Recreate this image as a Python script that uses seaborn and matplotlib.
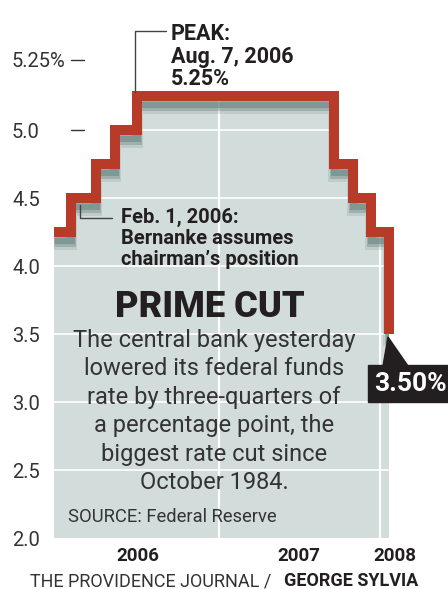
import numpy as np
import pandas as pd
import matplotlib
matplotlib.use("Agg")
import matplotlib.pyplot as plt
import matplotlib.dates as mdates
import matplotlib.transforms as mtransforms
from matplotlib.patches import Rectangle, Polygon
import seaborn as sns

# ---- data ----
change_dates = ["2005-12-23", "2006-01-31", "2006-03-28", "2006-05-10", "2006-06-29",
                "2007-09-18", "2007-10-31", "2007-12-11", "2008-01-22"]
rates = [4.25, 4.50, 4.75, 5.00, 5.25, 4.75, 4.50, 4.25, 3.50]
ytick_values = [2.0, 2.5, 3.0, 3.5, 4.0, 4.5, 5.0, 5.515]
ytick_labels = ["2.0", "2.5", "3.0", "3.5", "4.0", "4.5", "5.0", "5.25%"]
year_label_dates = ["2006-07-02", "2007-07-02", "2008-02-04"]
year_labels = ["2006", "2007", "2008"]
year_grid_dates = ["2007-01-01", "2008-01-01"]
ygrid_values = [2.5, 3.0, 3.5, 4.0, 4.5, 5.0]

sns.set_theme(style="white")
plt.rcParams['font.family'] = ['Roboto', 'DejaVu Sans']

W, H = 448, 589
fig = plt.figure(figsize=(W / 100, H / 100), dpi=100)
fig.patch.set_facecolor("white")

def fx(x):
    return x / W

def fy(y):
    return 1 - y / H

ax_left, ax_right, ax_top, ax_bottom = 54, 448, 0, 538
ax = fig.add_axes([fx(ax_left), fy(ax_bottom), (ax_right - ax_left) / W, (ax_bottom - ax_top) / H])
ax.set_facecolor("none")

x = mdates.date2num(pd.to_datetime(change_dates))
x0 = mdates.date2num(pd.Timestamp("2006-01-01"))
dpp = 365 / 161.0
ax.set_xlim(x0 - 4 * dpp, x0 + (ax_right - 58) * dpp)
ax.set_ylim(2.0, 2.0 + (ax_bottom - ax_top) / 136.0)

FILL = "#d2dcda"
RED = "#b83a28"
SHADOW = "#6f8785"
DARK = "#231f20"
TXT = "#333333"

fill = ax.fill_between(x, rates, 2.0, step="post", color=FILL, lw=0, zorder=1)
clip_path = fill.get_paths()[0]

# gridlines (white, clipped to area)
for v in ygrid_values:
    l = ax.axhline(v, color="white", lw=1.2, zorder=2)
    l.set_clip_path(clip_path, ax.transData)
for d in year_grid_dates:
    l = ax.axvline(mdates.date2num(pd.Timestamp(d)), color="white", lw=1.6, zorder=2)
    l.set_clip_path(clip_path, ax.transData)

# drop shadow (layered for a soft edge)
for off, lw, a in [(12, 12, 0.2), (10, 9, 0.4), (8, 7, 0.6)]:
    tr = mtransforms.offset_copy(ax.transData, fig=fig, x=0, y=-off, units="dots")
    sl, = ax.plot(x, rates, drawstyle="steps-post", color=SHADOW, lw=lw * 0.72,
                  alpha=a, transform=tr, zorder=3, solid_joinstyle="miter",
                  solid_capstyle="butt")
    sl.set_clip_path(clip_path, ax.transData)

# main step line
df = pd.DataFrame({"date": x, "rate": rates})
sns.lineplot(data=df, x="date", y="rate", drawstyle="steps-post", estimator=None,
             color=RED, lw=10 * 0.72, ax=ax, zorder=5)
for ln in ax.lines[-1:]:
    ln.set_solid_joinstyle("miter")
    ln.set_solid_capstyle("butt")

# axes styling
for s in ax.spines.values():
    s.set_visible(False)
ax.set_xlabel("")
ax.set_ylabel("")
ax.set_yticks(ytick_values)
ax.set_yticklabels(ytick_labels, fontsize=14.5, color=TXT)
for t in ax.get_yticklabels():
    t.set_horizontalalignment("left")
ax.tick_params(axis="y", length=0, pad=(54 - 12) * 0.72)
ax.set_xticks(mdates.date2num(pd.to_datetime(year_label_dates)))
ax.set_xticklabels(year_labels, fontsize=13.5, fontweight="bold", color=DARK)
ax.tick_params(axis="x", length=0, pad=6.5)
ax.grid(False)

# small dashes next to top labels
btr = mtransforms.blended_transform_factory(ax.transAxes, ax.transData)
for v in [5.0, 5.515]:
    ax.plot([(71 - 54) / 394, (84 - 54) / 394], [v, v], color=TXT, lw=1.0,
            transform=btr, clip_on=False, zorder=6)

# annotation leaders
fig.add_artist(matplotlib.lines.Line2D([fx(135), fx(135), fx(166)], [fy(92), fy(31), fy(31)],
                                       color="#444444", lw=1.0))
fig.add_artist(matplotlib.lines.Line2D([fx(80), fx(80), fx(112)], [fy(205), fy(218), fy(218)],
                                       color="#444444", lw=1.0))

fig.text(fx(171), fy(23), "PEAK:\nAug. 7, 2006\n5.25%", fontsize=15.5, fontweight="bold",
         color=DARK, ha="left", va="top", linespacing=1.03)
fig.text(fx(121), fy(208), "Feb. 1, 2006:\nBernanke assumes\nchairman\u2019s position",
         fontsize=14.5, fontweight="bold", color=DARK, ha="left", va="top", linespacing=1.14)

fig.text(fx(210), fy(307), "PRIME CUT", fontsize=26, fontweight="heavy", color=DARK,
         ha="center", va="center")
fig.text(fx(214), fy(329), "The central bank yesterday\nlowered its federal funds\n"
         "rate by three-quarters of\na percentage point, the\nbiggest rate cut since\n"
         "October 1984.", fontsize=17, color=TXT, ha="center", va="top", linespacing=1.30)
fig.text(fx(68), fy(517), "SOURCE: Federal Reserve", fontsize=13.2, color=TXT,
         ha="left", va="center")

# 3.50% callout
fig.add_artist(Polygon([[fx(388), fy(337)], [fx(383), fy(366)], [fx(408), fy(366)]],
                       closed=True, color=DARK, transform=fig.transFigure))
fig.add_artist(Rectangle((fx(368), fy(402)), (W - 368) / W, 37 / H, color=DARK,
                         transform=fig.transFigure))
fig.text(fx(410), fy(384), "3.50%", fontsize=19, fontweight="bold", color="white",
         ha="center", va="center")

# credit line
fig.text(fx(30), fy(586), "THE PROVIDENCE JOURNAL /", fontsize=13, color=TXT,
         ha="left", va="baseline")
fig.text(fx(418), fy(586), "GEORGE SYLVIA", fontsize=13, fontweight="bold", color=DARK,
         ha="right", va="baseline")

fig.savefig("out.png", dpi=100, facecolor="white")
